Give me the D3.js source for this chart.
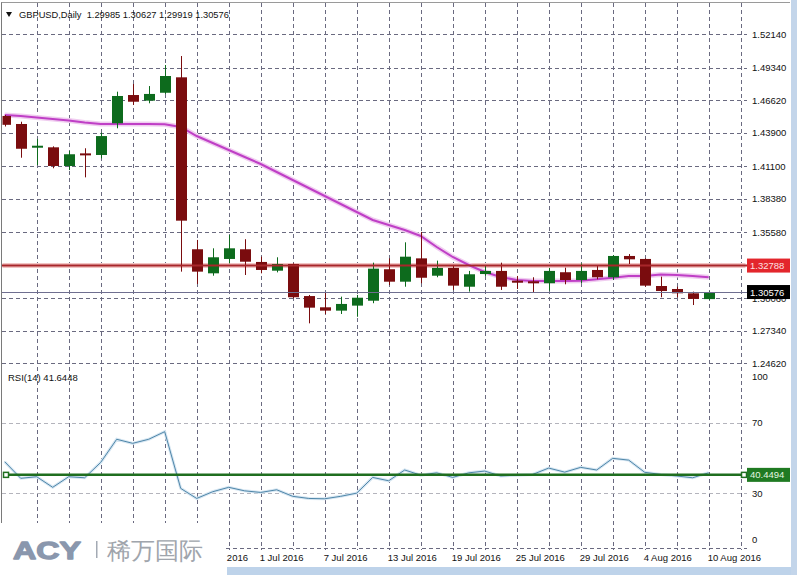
<!DOCTYPE html>
<html><head><meta charset="utf-8">
<script src="https://cdn.jsdelivr.net/npm/d3@7"></script>
<style>
html,body{margin:0;padding:0;background:#fff;}
svg{display:block;}
text{font-family:"Liberation Sans",Arial,sans-serif;}
</style></head><body>
<svg id="c" width="797" height="575"></svg>
<script>
// ---------- data ----------
const dates = ["2016-06-09","2016-06-10","2016-06-13","2016-06-14","2016-06-15","2016-06-16","2016-06-17",
"2016-06-20","2016-06-21","2016-06-22","2016-06-23","2016-06-24","2016-06-27","2016-06-28","2016-06-29","2016-06-30",
"2016-07-01","2016-07-04","2016-07-05","2016-07-06","2016-07-07","2016-07-08","2016-07-11","2016-07-12","2016-07-13",
"2016-07-14","2016-07-15","2016-07-18","2016-07-19","2016-07-20","2016-07-21","2016-07-22","2016-07-25","2016-07-26",
"2016-07-27","2016-07-28","2016-07-29","2016-08-01","2016-08-02","2016-08-03","2016-08-04","2016-08-05","2016-08-08",
"2016-08-09","2016-08-10"];
const opens  = [1.4529,1.4462,1.4268,1.4267,1.4111,1.4212,1.4203,1.4468,1.4704,1.4657,1.4723,1.4852,1.3415,1.3214,1.3334,1.3415,
1.3309,1.3236,1.3292,1.3024,1.2930,1.2902,1.2944,1.2985,1.3248,1.3144,1.3339,1.3194,1.3259,1.3102,1.3208,1.3234,1.3147,1.3142,
1.3131,1.3223,1.3158,1.3242,1.3181,1.3359,1.3334,1.3108,1.3083,1.3047,1.29985];
const highs  = [1.4537,1.4481,1.4337,1.4275,1.4236,1.4259,1.4389,1.4732,1.4796,1.4779,1.4955,1.5030,1.3493,1.3423,1.3534,1.3499,
1.3353,1.3348,1.3298,1.3033,1.3052,1.3019,1.3033,1.3303,1.3339,1.3473,1.3560,1.3320,1.3284,1.3234,1.3278,1.3303,1.3192,1.3181,
1.3259,1.3261,1.3298,1.3278,1.3367,1.3375,1.3339,1.3186,1.3102,1.3061,1.30627];
const lows   = [1.4441,1.4180,1.4119,1.4092,1.4077,1.4016,1.4175,1.4426,1.4621,1.4635,1.4713,1.3228,1.3125,1.3194,1.3297,1.3200,
1.3214,1.3222,1.3005,1.2796,1.2874,1.2874,1.2851,1.2964,1.3116,1.3102,1.3131,1.3181,1.3075,1.3061,1.3192,1.3075,1.3083,1.3056,
1.3069,1.3122,1.3131,1.3164,1.3158,1.3292,1.3102,1.3014,1.3014,1.2949,1.29919];
const closes = [1.4455,1.4255,1.4276,1.4111,1.4209,1.4204,1.4361,1.4696,1.4648,1.4713,1.4863,1.3654,1.3228,1.3348,1.3423,1.3311,
1.3242,1.3292,1.3014,1.2927,1.2902,1.2958,1.3010,1.3253,1.3144,1.3353,1.3177,1.3259,1.3111,1.3206,1.3234,1.3102,1.3141,1.3136,
1.3234,1.3158,1.3234,1.3181,1.3359,1.3331,1.3111,1.3066,1.3047,1.3000,1.30576];
const maValues = [1.45371,1.45287,1.45162,1.45037,1.44911,1.44744,1.44619,1.44619,1.44619,1.44610,1.44600,1.44368,1.43616,1.43031,
1.42446,1.41861,1.41276,1.40607,1.39939,1.39270,1.38602,1.37933,1.37264,1.36596,1.36178,1.35760,1.35259,1.34340,1.33504,1.32835,
1.32250,1.31832,1.31582,1.31498,1.31498,1.31498,1.31523,1.31640,1.31774,1.31916,1.31916,1.32042,1.32000,1.31916,1.31807];
const rsiValues = [47.9,38.5,39.4,33.4,39.4,38.8,47.5,60.6,58.3,60.6,64.9,32.8,27.1,30.9,33.4,31.4,30.5,32.0,28.3,27.1,26.9,28.3,
30.1,39.0,37.1,43.2,40.3,41.6,39.0,41.6,42.6,39.8,40.3,40.7,44.3,42.0,44.7,43.2,49.8,48.8,41.9,40.7,39.8,38.8,41.6448];
const priceTicks = ["1.52140","1.49340","1.46620","1.43900","1.41100","1.38380","1.35580","1.32860","1.30060","1.27340","1.24620"];
const rsiTicks = [100,70,30,0];
const rsiLevels = [70,30];
const dateTickDates = ["2016-06-27","2016-07-01","2016-07-07","2016-07-13","2016-07-19",
"2016-07-25","2016-07-29","2016-08-04","2016-08-10"];
const resistanceLevel = 1.32788;
const bidPrice = 1.30576;
const rsiLevel = 40.4494;
const rsiCurrent = "41.6448";
const header = ["GBPUSD,Daily", "1.29985", "1.30627", "1.29919", "1.30576"];

// ---------- drawing ----------
const svg = d3.select("#c");
const W = 797, H = 575;
const left = 2, right = 745;
const mainTop = 3, mainBot = 368, rsiTop = 369, rsiBot = 548;
const gridCol = "#6a6a80", bull = "#0d6b1d", bear = "#7a0c0e";

const x = d3.scalePoint().domain(dates).range([4.7, 708.7]);
const yP = d3.scaleLinear().domain([1.24620, 1.52140]).range([363.3, 34]);
const yR = d3.scaleLinear().domain([0, 100]).range([546.3, 369.7]);

svg.append("rect").attr("width", W).attr("height", H).attr("fill", "#fff");

const defs = svg.append("defs");
defs.append("clipPath").attr("id", "cm").append("rect")
  .attr("x", left + 0.5).attr("y", mainTop).attr("width", right - left).attr("height", mainBot - mainTop);
defs.append("clipPath").attr("id", "cr").append("rect")
  .attr("x", left + 0.5).attr("y", rsiTop).attr("width", right - left).attr("height", rsiBot - rsiTop);
defs.append("clipPath").attr("id", "cd").append("rect")
  .attr("x", 226).attr("y", 540).attr("width", 571).attr("height", 35);

// vertical grid
const step = x.step();
const gxs = d3.range(2, 47, 2).map(i => x.range()[0] + i * step);
svg.append("g").selectAll("line").data(gxs).join("line")
  .attr("x1", d => Math.round(d) + 0.5).attr("x2", d => Math.round(d) + 0.5)
  .attr("y1", mainTop).attr("y2", rsiBot + 2)
  .attr("stroke", gridCol).attr("stroke-dasharray", "4,3");

// horizontal price grid
svg.append("g").selectAll("line").data(priceTicks).join("line")
  .attr("x1", left).attr("x2", 747)
  .attr("y1", d => Math.round(yP(+d)) + 0.5).attr("y2", d => Math.round(yP(+d)) + 0.5)
  .attr("stroke", gridCol).attr("stroke-dasharray", "4,3");

// RSI levels
svg.append("g").selectAll("line").data(rsiLevels).join("line")
  .attr("x1", left).attr("x2", 747)
  .attr("y1", d => Math.round(yR(d)) + 0.5).attr("y2", d => Math.round(yR(d)) + 0.5)
  .attr("stroke", "#b4b4bc").attr("stroke-dasharray", "4,3");
svg.append("line").attr("x1", left).attr("x2", 747).attr("y1", rsiBot + 0.5).attr("y2", rsiBot + 0.5)
  .attr("stroke", gridCol).attr("stroke-dasharray", "4,3");

// borders
svg.append("line").attr("x1", 1.5).attr("x2", 1.5).attr("y1", 2).attr("y2", rsiBot)
  .attr("stroke", "#7a7a7a");
svg.append("line").attr("x1", 1.5).attr("x2", 790).attr("y1", 2.5).attr("y2", 2.5)
  .attr("stroke", "#9a9a9a");

const gm = svg.append("g").attr("clip-path", "url(#cm)");

// resistance line
gm.append("line").attr("x1", left).attr("x2", 748)
  .attr("y1", yP(resistanceLevel)).attr("y2", yP(resistanceLevel))
  .attr("stroke", "#f2c4c4").attr("stroke-width", 5);
svg.append("line").attr("x1", left).attr("x2", 748)
  .attr("y1", yP(resistanceLevel)).attr("y2", yP(resistanceLevel))
  .attr("stroke", "#a8262a").attr("stroke-width", 2);

// bid line
svg.append("line").attr("x1", left).attr("x2", 748)
  .attr("y1", Math.round(yP(bidPrice)) + 0.5).attr("y2", Math.round(yP(bidPrice)) + 0.5)
  .attr("stroke", "#6f6f90").attr("stroke-width", 1);

// MA
const maLine = d3.line().x((d, i) => x(dates[i])).y(d => yP(d));
gm.append("path").datum(maValues).attr("d", maLine).attr("fill", "none")
  .attr("stroke", "#f0cdf0").attr("stroke-width", 5);
gm.append("path").datum(maValues).attr("d", maLine).attr("fill", "none")
  .attr("stroke", "#bf3fc6").attr("stroke-width", 2);

// candles
const bw = 11;
const candles = gm.append("g").selectAll("g").data(dates).join("g");
candles.append("line")
  .attr("x1", (d) => Math.round(x(d)) + 0.5).attr("x2", (d) => Math.round(x(d)) + 0.5)
  .attr("y1", (d, i) => yP(highs[i])).attr("y2", (d, i) => yP(lows[i]))
  .attr("stroke", (d, i) => closes[i] >= opens[i] ? bull : bear).attr("stroke-width", 1);
candles.append("rect")
  .attr("x", d => Math.round(x(d)) + 0.5 - bw / 2)
  .attr("width", bw)
  .attr("y", (d, i) => {
    const t = yP(Math.max(opens[i], closes[i])), b = yP(Math.min(opens[i], closes[i]));
    return b - t < 2 ? (t + b) / 2 - 1 : t;
  })
  .attr("height", (d, i) => Math.max(2, yP(Math.min(opens[i], closes[i])) - yP(Math.max(opens[i], closes[i]))))
  .attr("fill", (d, i) => closes[i] >= opens[i] ? bull : bear);

// price axis labels (labels fully hidden behind a price box are not drawn)
const fs = "9.5px";
const boxYs = [yP(resistanceLevel), yP(bidPrice)];
svg.append("g").selectAll("text")
  .data(priceTicks.filter(d => boxYs.every(b => Math.abs(yP(+d) - b) > 4)))
  .join("text")
  .attr("x", 752).attr("y", d => yP(+d) + 3.5)
  .attr("font-size", fs).attr("fill", "#111").text(d => d);

// price boxes
function box(val, yc, bg, fg) {
  svg.append("rect").attr("x", 747).attr("y", yc - 7).attr("width", 43).attr("height", 14).attr("fill", bg);
  svg.append("text").attr("x", 750).attr("y", yc + 3.5).attr("font-size", fs).attr("fill", fg).text(val);
}
box(resistanceLevel.toFixed(5), yP(resistanceLevel), "#e3262c", "#fde0e0");
box(bidPrice.toFixed(5), yP(bidPrice), "#000", "#fff");

// RSI panel
const gr = svg.append("g").attr("clip-path", "url(#cr)");
const rsiLine = d3.line().x((d, i) => x(dates[i])).y(d => yR(d));
gr.append("path").datum(rsiValues).attr("d", rsiLine).attr("fill", "none")
  .attr("stroke", "#d6e6f2").attr("stroke-width", 3);
gr.append("path").datum(rsiValues).attr("d", rsiLine).attr("fill", "none")
  .attr("stroke", "#4f86a8").attr("stroke-width", 1);

svg.append("line").attr("x1", 6).attr("x2", 744).attr("y1", yR(rsiLevel)).attr("y2", yR(rsiLevel))
  .attr("stroke", "#1f6e1f").attr("stroke-width", 2.5);
[6, 744].forEach(cx => {
  svg.append("rect").attr("x", cx - 2.5).attr("y", yR(rsiLevel) - 2.5).attr("width", 5).attr("height", 5)
    .attr("fill", "#fff").attr("stroke", "#1f6e1f").attr("stroke-width", 1.5);
});
svg.append("rect").attr("x", 747).attr("y", yR(rsiLevel) - 7).attr("width", 43).attr("height", 14).attr("fill", "#1f7a22");
svg.append("text").attr("x", 750).attr("y", yR(rsiLevel) + 3.5).attr("font-size", fs).attr("fill", "#e4f7e0").text(rsiLevel.toFixed(4));

svg.append("g").selectAll("text").data(rsiTicks).join("text")
  .attr("x", 752).attr("y", d => d === 100 ? yR(d) + 10 : d === 0 ? yR(d) - 3 : yR(d) + 3.5)
  .attr("font-size", fs).attr("fill", "#111").text(d => d);

svg.append("text").attr("x", 8).attr("y", 381).attr("font-size", fs).attr("fill", "#111")
  .text("RSI(14) " + rsiCurrent);

// date labels
const fmt = d3.timeFormat("%-d %b %Y"), parse = d3.timeParse("%Y-%m-%d");
svg.append("g").attr("clip-path", "url(#cd)").selectAll("text").data(dateTickDates).join("text")
  .attr("x", d => x(d) - 1).attr("y", 561)
  .attr("font-size", fs).attr("fill", "#111").text(d => fmt(parse(d)));

// header
svg.append("path").attr("d", "M6,12 L12,12 L9,17 Z").attr("fill", "#111");
svg.append("text").attr("x", 19).attr("y", 17.5).attr("font-size", "9.3px").attr("fill", "#111")
  .attr("xml:space", "preserve").text(header[0] + "  " + header.slice(1).join(" "));

// logo overlay
svg.append("rect").attr("x", 0).attr("y", 523).attr("width", 226).attr("height", 52).attr("fill", "#fff");
svg.append("text").attr("x", 13).attr("y", 559).attr("font-size", "24px").attr("font-weight", "900")
  .attr("font-family", "'DejaVu Sans','Open Sans',sans-serif").attr("fill", "#8a97ad")
  .attr("stroke", "#8a97ad").attr("stroke-width", 1.3).attr("stroke-linejoin", "round")
  .attr("textLength", 68).attr("lengthAdjust", "spacingAndGlyphs")
  .text("ACY");
svg.append("rect").attr("x", 96).attr("y", 541).attr("width", 1.5).attr("height", 17).attr("fill", "#a3aab4");
svg.append("text").attr("x", 107).attr("y", 559).attr("font-size", "24px")
  .attr("font-family", "'Noto Sans CJK SC',sans-serif").attr("fill", "#a0a5ac").text("稀万国际");

// window frame strips
svg.append("rect").attr("x", 227).attr("y", 567).attr("width", 570).attr("height", 8).attr("fill", "#bed3ea");
svg.append("rect").attr("x", 791).attr("y", 0).attr("width", 6).attr("height", 575).attr("fill", "#c3d5ea");
</script>
</body></html>
